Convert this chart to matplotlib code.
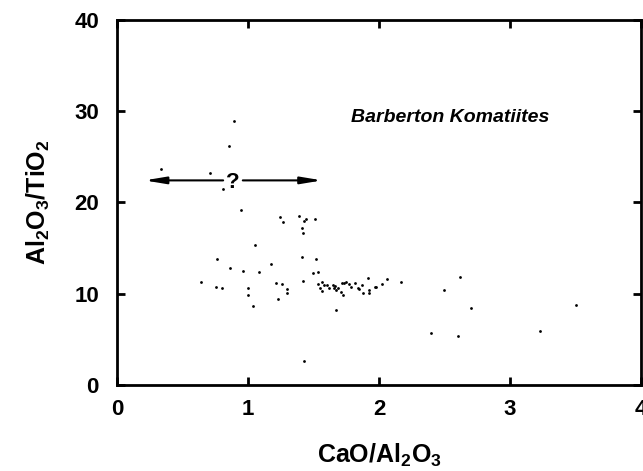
import numpy as np
import matplotlib
matplotlib.use("Agg")
import matplotlib.pyplot as plt

# CaO/Al2O3 vs Al2O3/TiO2, Barberton komatiites
cao_al2o3 = [0.89, 0.855, 0.336, 0.71, 0.81, 0.95, 1.247, 1.27, 1.39, 1.44, 1.43,
             1.51, 1.41, 1.42, 1.053, 0.763, 1.415, 1.52, 0.86, 0.96, 1.173, 1.084,
             1.496, 1.534, 0.644, 0.758, 0.80, 1.0, 1.0, 1.04, 1.21, 1.26, 1.295,
             1.30, 1.227, 1.417, 1.427,
             1.534, 1.567, 1.60, 1.55, 1.562, 1.58, 1.62, 1.646, 1.66, 1.656, 1.67,
             1.685, 1.707, 1.715, 1.733, 1.748, 1.727, 1.773, 1.783, 1.817, 1.84,
             1.87, 1.875, 1.914, 1.926, 1.926, 1.668, 1.85, 1.97, 1.98, 2.02, 2.06,
             2.17, 2.496, 2.62, 2.70, 2.40, 2.60, 3.23, 3.506]
al2o3_tio2 = [28.9, 26.2, 23.6, 23.2, 21.5, 19.2, 18.4, 17.8, 18.5, 18.2, 17.9,
              18.2, 17.2, 16.6, 15.3, 13.8, 14.0, 13.8, 12.8, 12.5, 13.2, 12.35,
              12.2, 12.4, 11.3, 10.7, 10.6, 10.65, 9.8, 8.6, 11.2, 11.0, 10.5,
              10.1, 9.35, 11.4, 2.6,
              11.1, 11.3, 10.97, 10.6, 10.3, 10.9, 10.6, 10.9, 10.8, 10.6, 10.4,
              10.6, 10.2, 11.2, 11.2, 11.3, 9.86, 11.0, 10.7, 11.2, 10.6,
              10.9, 10.1, 11.7, 10.4, 10.1, 8.2, 10.5, 10.7, 10.7, 11.1, 11.6,
              11.3, 10.4, 11.8, 8.4, 5.67, 5.34, 5.9, 8.77]

x_ticks = [0, 1, 2, 3, 4]
y_ticks = [0, 10, 20, 30, 40]

plt.rcParams['font.family'] = ['Liberation Sans', 'DejaVu Sans']
plt.rcParams['mathtext.default'] = 'regular'

fig = plt.figure(figsize=(6.43, 4.71), dpi=100)
ax = fig.add_axes([0.182, 0.183, 0.815, 0.775])

ax.scatter(cao_al2o3, al2o3_tio2, s=4, marker='o', color='black', linewidths=0)

ax.set_xlim(0, 4)
ax.set_ylim(0, 40)
ax.set_xticks(x_ticks)
ax.set_yticks(y_ticks)
ax.tick_params(direction='in', length=6, width=2, top=True, right=True,
               labelsize=16)
ax.tick_params(axis='x', pad=10)
ax.tick_params(axis='y', pad=13)
for lab in ax.get_xticklabels() + ax.get_yticklabels():
    lab.set_fontweight('heavy')
for sp in ax.spines.values():
    sp.set_linewidth(2)

ax.set_xlabel('CaO/Al$_2$O$_3$', fontsize=18, fontweight='bold', labelpad=16)
ax.set_ylabel('Al$_2$O$_3$/TiO$_2$', fontsize=18, fontweight='bold', labelpad=16)

# the "?" range arrow
arrow_style = dict(arrowstyle='-|>,head_length=0.9,head_width=0.15',
                   color='black', lw=1.5, mutation_scale=14, shrinkA=0, shrinkB=0)
ax.annotate('', xy=(0.21, 22.4), xytext=(0.81, 22.4), arrowprops=arrow_style)
ax.annotate('', xy=(1.565, 22.4), xytext=(0.96, 22.4), arrowprops=arrow_style)
ax.text(0.885, 22.2, '?', fontsize=16, fontweight='bold', ha='center', va='center')

ax.text(2.54, 29.3, 'Barberton Komatiites', fontsize=14, fontweight='bold',
        fontstyle='italic', ha='center', va='center')

fig.savefig('out.png', dpi=100)
